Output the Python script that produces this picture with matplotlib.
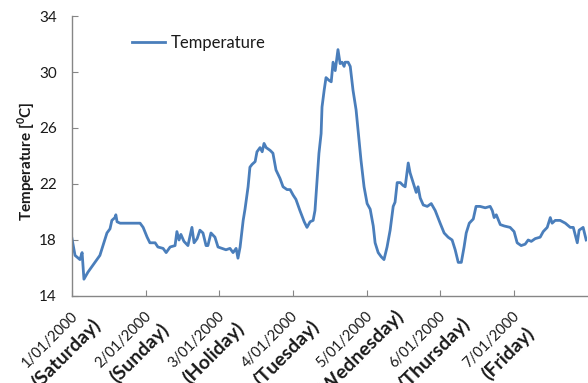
import matplotlib
matplotlib.use("Agg")
import matplotlib.pyplot as plt
from matplotlib.transforms import ScaledTranslation

# hours since 1/01/2000 00:00 and measured air temperature (degC)
hours = [
    0.0, 1.0, 2.6, 3.3, 3.9, 5.2, 7.5, 9.1, 10.1, 11.4, 12.4, 13.0, 14.0, 14.3,
    14.7, 15.7, 18.9, 22.2, 23.2, 24.5, 25.4, 27.1, 28.0, 29.7, 30.7, 32.0,
    33.6, 34.2, 34.9, 35.5, 36.5, 37.8, 39.1, 39.8, 40.8, 41.7, 42.7, 43.7,
    44.3, 45.3, 46.6, 47.6, 48.9, 50.2, 51.5, 52.5, 53.5, 54.1, 54.8, 55.8,
    56.4, 57.4, 58.0, 58.7, 59.7, 60.3, 61.3, 62.0, 62.6, 63.3, 64.6, 65.5,
    66.5, 67.8, 68.8, 70.1, 71.1, 72.1, 73.0, 74.3, 75.7, 76.6, 77.6, 78.6,
    79.2, 79.9, 80.5, 81.2, 81.5, 82.2, 82.8, 83.8, 84.5, 85.1, 85.8, 86.7,
    87.4, 88.0, 88.7, 89.0, 90.0, 90.7, 91.6, 92.6, 93.6, 94.2, 95.2, 96.2,
    97.2, 98.2, 98.8, 99.8, 100.8, 101.7, 102.7, 103.7, 104.7, 105.3, 106.0,
    107.0, 107.9, 108.6, 109.6, 110.2, 111.2, 112.2, 112.8, 113.5, 114.5,
    115.8, 117.1, 118.4, 120.0, 121.3, 122.6, 123.9, 124.9, 125.9, 126.9,
    127.8, 128.5, 129.5, 130.8, 131.7, 133.0, 134.7, 136.3, 137.0, 137.6,
    138.3, 139.6, 140.9, 142.8, 144.1, 145.1, 146.4, 147.7, 148.7, 149.7,
    151.0, 152.6, 153.6, 154.9, 155.9, 156.5, 157.5, 159.1, 160.8, 162.4,
    163.4, 164.7, 165.3, 166.6, 167.6,
]
temperature = [
    18.1, 16.9, 16.6, 17.1, 15.2, 15.7, 16.4, 16.9, 17.6, 18.5, 18.8, 19.4,
    19.6, 19.8, 19.3, 19.2, 19.2, 19.2, 18.9, 18.2, 17.8, 17.8, 17.5, 17.4,
    17.1, 17.5, 17.6, 18.6, 18.0, 18.4, 17.9, 17.6, 18.9, 17.8, 18.1, 18.7,
    18.5, 17.6, 17.6, 18.5, 18.2, 17.5, 17.4, 17.3, 17.4, 17.1, 17.4, 16.7,
    17.5, 19.4, 20.2, 21.8, 23.2, 23.4, 23.6, 24.3, 24.6, 24.3, 24.9, 24.6,
    24.4, 24.2, 23.0, 22.4, 21.8, 21.6, 21.6, 21.2, 20.9, 20.1, 19.3, 18.9,
    19.3, 19.4, 20.1, 22.3, 24.2, 25.6, 27.5, 28.7, 29.6, 29.4, 29.3, 30.7,
    30.1, 31.6, 30.6, 30.7, 30.4, 30.7, 30.7, 30.4, 28.7, 27.3, 25.1, 23.7,
    21.8, 20.6, 20.2, 19.0, 17.8, 17.1, 16.8, 16.6, 17.5, 18.7, 20.4, 20.7,
    22.1, 22.1, 21.9, 21.8, 23.5, 22.8, 22.1, 21.4, 21.8, 21.0, 20.5, 20.4,
    20.6, 20.1, 19.2, 18.5, 18.2, 18.0, 17.3, 16.4, 16.4, 17.5, 18.5, 19.2,
    19.5, 20.4, 20.4, 20.3, 20.4, 20.1, 19.6, 19.8, 19.1, 19.0, 18.9, 18.6,
    17.8, 17.6, 17.7, 18.0, 17.9, 18.1, 18.2, 18.6, 18.9, 19.6, 19.2, 19.4,
    19.4, 19.2, 18.9, 18.9, 17.8, 18.7, 18.9, 18.0,
]

dates = ["1/01/2000", "2/01/2000", "3/01/2000", "4/01/2000",
         "5/01/2000", "6/01/2000", "7/01/2000"]
days = ["(Saturday)", "(Sunday)", "(Holiday)", "(Tuesday)",
        "(Wednesday)", "(Thursday)", "(Friday)"]
y_ticks = [14, 18, 22, 26, 30, 34]

plt.rcParams["font.family"] = ["Lato", "DejaVu Sans"]
plt.rcParams["mathtext.fontset"] = "custom"
plt.rcParams["mathtext.rm"] = "Lato"
plt.rcParams["mathtext.bf"] = "Lato:bold"

GREY = "#868686"
BLUE = "#4A7EBB"
TEXT = "#1a1a1a"

fig = plt.figure(figsize=(5.88, 3.83), dpi=100)
ax = fig.add_axes([0.1224, 0.2272, 0.8766, 0.7310])

ax.plot(hours, temperature, color=BLUE, lw=2.0, label="Temperature")

ax.set_xlim(0, 168)
ax.set_ylim(14, 34)
ax.set_yticks(y_ticks)
day_ticks = [24 * i for i in range(len(dates))]
ax.set_xticks(day_ticks)
ax.set_xticklabels(dates, rotation=45, ha="center", va="center",
                   rotation_mode="anchor", fontsize=10.5)

for side in ("top", "right"):
    ax.spines[side].set_visible(False)
for side in ("left", "bottom"):
    ax.spines[side].set_color(GREY)
    ax.spines[side].set_linewidth(1.0)

ax.tick_params(axis="both", direction="in", length=4, color=GREY,
               labelcolor=TEXT)
ax.tick_params(axis="y", pad=11, labelsize=11)
ax.tick_params(axis="x", pad=0)

# slanted date labels sit below-left of their tick; weekday goes under it
date_off = ScaledTranslation(-0.225, -0.435, fig.dpi_scale_trans)
for lbl in ax.get_xticklabels():
    lbl.set_transform(lbl.get_transform() + date_off)

day_off = ScaledTranslation(-0.06, -0.57, fig.dpi_scale_trans)
for t, name in zip(day_ticks, days):
    ax.text(t, 0, name, transform=ax.get_xaxis_transform() + day_off,
            rotation=45, rotation_mode="anchor", ha="center", va="center",
            fontsize=14, fontweight="bold", color=TEXT, clip_on=False)

ax.set_ylabel("Temperature [$^{\\mathbf{0}}$C]", fontweight="bold",
              fontsize=11, color=TEXT)
ax.yaxis.set_label_coords(-0.068, 0.48)

ax.legend(loc="center left", bbox_to_anchor=(0.1165, 0.904), frameon=False,
          fontsize=12, handlelength=2.0, handletextpad=0.3,
          borderaxespad=0, borderpad=0, labelcolor=TEXT)

fig.savefig("out.png", dpi=100)
